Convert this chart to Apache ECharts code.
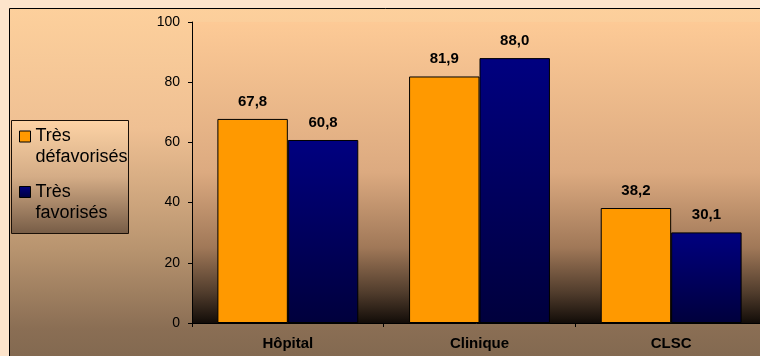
<!DOCTYPE html>
<html>
<head>
<meta charset="utf-8">
<script src="https://cdn.jsdelivr.net/npm/echarts@6/dist/echarts.min.js"></script>
<style>
  html, body { margin: 0; padding: 0; background: #fde4cb; }
  #chart { width: 760px; height: 356px; }
</style>
</head>
<body>
<div id="chart"></div>
<script>
// données
const categories = ["Hôpital", "Clinique", "CLSC"];
const seriesNames = ["Très\ndéfavorisés", "Très\nfavorisés"];
const tresDefavorises = [67.8, 81.9, 38.2];
const tresFavorises = [60.8, 88.0, 30.1];
const yTicks = [0, 20, 40, 60, 80, 100];

const font = "Liberation Sans, Arial, sans-serif";
const chart = echarts.init(document.getElementById("chart"));

const barLabel = {
  show: true,
  position: "top",
  distance: 10,
  fontFamily: font,
  fontSize: 15,
  fontWeight: "bold",
  color: "#000",
  formatter: (p) => p.value.toFixed(1).replace(".", ","),
};

const option = {
  animation: false,
  backgroundColor: "#fde4cb",
  graphic: [
    {
      // cadre du graphique
      type: "rect",
      z: -100,
      silent: true,
      shape: { x: 9.5, y: 8.5, width: 800, height: 400 },
      style: {
        stroke: "#000",
        lineWidth: 1,
        fill: new echarts.graphic.LinearGradient(0, 0, 0, 1, [
          { offset: 0, color: "#fdd09c" },
          { offset: 0.3, color: "#efc093" },
          { offset: 0.6, color: "#b8946f" },
          { offset: 0.8, color: "#8a6e54" },
          { offset: 1, color: "#756049" },
        ]),
      },
    },
    {
      // boîte de la légende
      type: "rect",
      z: 3,
      silent: true,
      shape: { x: 11.5, y: 120.5, width: 117, height: 113 },
      style: {
        stroke: "#1a1008",
        lineWidth: 1,
        fill: new echarts.graphic.LinearGradient(0, 0, 0, 1, [
          { offset: 0, color: "#fdd3a5" },
          { offset: 0.5, color: "#d4ac86" },
          { offset: 1, color: "#765c46" },
        ]),
      },
    },
  ],
  legend: {
    orient: "vertical",
    left: 14,
    top: 100,
    itemGap: -7.5,
    itemWidth: 11,
    itemHeight: 11,
    icon: "rect",
    itemStyle: { borderColor: "#000", borderWidth: 1 },
    textStyle: {
      fontFamily: font,
      fontSize: 18,
      lineHeight: 21,
      color: "#000",
    },
    formatter: (name) => "\n" + name,
  },
  grid: {
    left: 192,
    top: 22,
    width: 575,
    height: 301,
    outerBoundsMode: "none",
    containLabel: false,
    show: true,
    borderWidth: 0,
    backgroundColor: new echarts.graphic.LinearGradient(0, 0, 0, 1, [
      { offset: 0, color: "#fdca96" },
      { offset: 0.5, color: "#dcaa80" },
      { offset: 0.75, color: "#a07858" },
      { offset: 0.9, color: "#503c2c" },
      { offset: 1, color: "#120c08" },
    ]),
  },
  xAxis: {
    type: "category",
    data: categories,
    axisLine: { lineStyle: { color: "#000", width: 1 } },
    axisTick: { show: true, length: 4, lineStyle: { color: "#000" } },
    axisLabel: {
      margin: 13,
      fontFamily: font,
      fontSize: 15,
      fontWeight: "bold",
      color: "#000",
    },
  },
  yAxis: {
    type: "value",
    min: yTicks[0],
    max: yTicks[yTicks.length - 1],
    interval: yTicks[1] - yTicks[0],
    splitLine: { show: false },
    axisLine: { show: true, lineStyle: { color: "#000", width: 1 } },
    axisTick: { show: true, length: 4, lineStyle: { color: "#000" } },
    axisLabel: {
      margin: 12,
      fontFamily: font,
      fontSize: 14,
      color: "#000",
    },
  },
  series: [
    {
      name: seriesNames[0],
      type: "bar",
      data: tresDefavorises,
      barGap: "0%",
      barCategoryGap: "26.5%",
      itemStyle: { color: "#ff9900", borderColor: "#000", borderWidth: 1 },
      label: barLabel,
    },
    {
      name: seriesNames[1],
      type: "bar",
      data: tresFavorises,
      itemStyle: {
        color: new echarts.graphic.LinearGradient(0, 0, 0, 1, [
          { offset: 0, color: "#000080" },
          { offset: 1, color: "#00003c" },
        ]),
        borderColor: "#000",
        borderWidth: 1,
      },
      label: barLabel,
    },
  ],
};

chart.setOption(option);
</script>
</body>
</html>
